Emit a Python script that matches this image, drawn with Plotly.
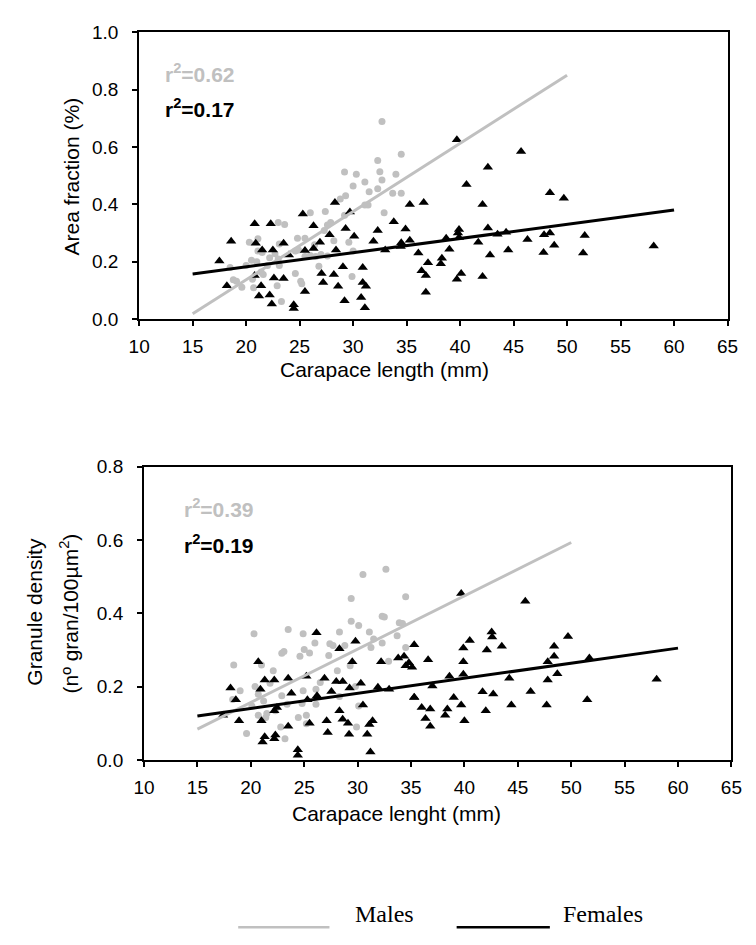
import plotly.graph_objects as go
from plotly.subplots import make_subplots

# ---------------- data ----------------
# Top panel: Area fraction (%) vs carapace length (mm)
area_male_x = [32.7, 34.5, 32.3, 32.5, 29.2, 30.3, 34.0, 32.7, 31.1, 30.0, 31.5, 32.3, 33.7, 34.5,
               29.3, 28.8, 31.1, 31.4, 32.9, 27.4, 26.0, 29.2, 27.9, 27.6, 23.0, 23.6, 27.3, 20.3,
               21.1, 24.8, 25.5, 23.1, 28.2, 29.6, 26.4, 24.9, 30.0, 21.1, 21.5, 24.6, 22.7, 25.5,
               26.0, 26.5, 27.0, 22.2, 23.0, 27.6, 20.5, 21.0, 20.0, 22.0, 23.1, 26.8, 18.5, 21.4,
               21.6, 24.6, 29.9, 19.1, 20.6, 25.1, 25.2, 19.6, 20.7, 22.9, 23.3, 18.8]
area_male_y = [0.689, 0.575, 0.553, 0.514, 0.513, 0.505, 0.505, 0.485, 0.478, 0.464, 0.444, 0.455, 0.439, 0.439,
               0.430, 0.419, 0.398, 0.398, 0.371, 0.375, 0.371, 0.362, 0.337, 0.328, 0.337, 0.330, 0.309, 0.268,
               0.280, 0.282, 0.282, 0.262, 0.273, 0.268, 0.259, 0.241, 0.237, 0.237, 0.232, 0.237, 0.228, 0.218,
               0.222, 0.218, 0.225, 0.214, 0.209, 0.220, 0.205, 0.200, 0.187, 0.187, 0.187, 0.184, 0.180, 0.164,
               0.155, 0.159, 0.148, 0.132, 0.139, 0.132, 0.123, 0.111, 0.109, 0.116, 0.061, 0.137]

area_female_x = [28.3, 35.3, 25.3, 29.7, 20.8, 22.3, 26.3, 33.8, 29.3, 34.9, 32.3, 18.6, 30.1, 27.8,
                 31.9, 35.3, 34.5, 20.9, 23.5, 26.9, 22.5, 21.5, 25.5, 26.3, 28.4, 24.0, 33.0, 17.5,
                 29.05, 30.9, 20.8, 27.05, 28.2, 18.2, 21.4, 22.6, 23.5, 27.2, 28.6, 30.9, 31.2, 25.5,
                 21.2, 22.2, 22.4, 24.45, 24.45, 29.2, 30.75, 31.1,
                 39.7, 45.7, 42.6, 40.6, 48.4, 49.7, 36.6, 42.1, 39.9, 39.8, 42.6, 43.5, 44.3, 38.7,
                 46.3, 47.85, 48.4, 51.65, 34.45, 39.9, 41.7, 36.1, 39.0, 44.5, 48.8, 47.8, 51.5, 58.1,
                 42.8, 37.0, 38.3, 38.2, 36.4, 36.8, 39.7, 40.1, 42.1, 36.8]
area_female_y = [0.407, 0.400, 0.366, 0.373, 0.332, 0.332, 0.325, 0.339, 0.316, 0.314, 0.309, 0.271, 0.289, 0.294,
                 0.271, 0.275, 0.266, 0.264, 0.264, 0.268, 0.241, 0.241, 0.239, 0.246, 0.241, 0.223, 0.241, 0.202,
                 0.182, 0.180, 0.152, 0.159, 0.155, 0.116, 0.116, 0.143, 0.141, 0.127, 0.114, 0.127, 0.114, 0.096,
                 0.080, 0.084, 0.052, 0.050, 0.037, 0.064, 0.075, 0.039,
                 0.626, 0.585, 0.530, 0.469, 0.441, 0.421, 0.407, 0.400, 0.312, 0.300, 0.318, 0.296, 0.303, 0.282,
                 0.277, 0.294, 0.300, 0.291, 0.253, 0.284, 0.268, 0.230, 0.243, 0.241, 0.257, 0.232, 0.230, 0.255,
                 0.223, 0.196, 0.212, 0.193, 0.168, 0.152, 0.139, 0.159, 0.148, 0.093]

area_male_fit_x = [15, 50]
area_male_fit_y = [0.018, 0.851]
area_female_fit_x = [15, 60]
area_female_fit_y = [0.157, 0.380]

# Bottom panel: Granule density vs carapace length (mm)
dens_male_x = [32.65, 30.5, 29.4, 34.5, 20.3, 23.5, 24.9, 29.4, 30.1, 32.3, 32.5, 33.9, 34.2, 28.3,
               31.1, 26.0, 27.4, 27.7, 25.0, 25.5, 22.9, 23.1, 24.6, 28.8, 31.25, 31.5, 32.3, 33.7,
               34.5, 18.4, 21.0, 22.1, 27.3, 28.1, 29.3, 32.9, 26.5, 20.4, 19.0, 21.8, 24.9, 26.1,
               20.7, 18.3, 21.2, 22.9, 23.4, 24.8, 26.1, 28.3, 29.8, 30.1, 20.1, 20.7, 21.4, 21.5,
               22.3, 24.45, 25.2, 25.2, 19.6, 22.8, 23.2, 29.9]
dens_male_y = [0.520, 0.506, 0.440, 0.445, 0.344, 0.356, 0.344, 0.378, 0.367, 0.392, 0.390, 0.374, 0.372, 0.349,
               0.349, 0.319, 0.317, 0.312, 0.301, 0.292, 0.291, 0.296, 0.283, 0.312, 0.307, 0.330, 0.319, 0.339,
               0.307, 0.259, 0.259, 0.243, 0.285, 0.243, 0.257, 0.269, 0.211, 0.200, 0.189, 0.209, 0.189, 0.193,
               0.179, 0.165, 0.161, 0.175, 0.152, 0.154, 0.152, 0.173, 0.200, 0.147, 0.147, 0.122, 0.116, 0.127,
               0.134, 0.116, 0.122, 0.099, 0.072, 0.090, 0.058, 0.090]

dens_female_x = [26.15, 29.8, 20.7, 28.3, 29.5, 32.2, 33.8, 34.35, 34.5, 35.1, 35.3, 21.3, 22.2, 23.5,
                 25.2, 26.9, 28.0, 28.6, 30.3, 18.1, 20.9, 23.8, 27.55, 29.25, 31.9, 32.95, 18.6, 25.3,
                 26.2, 35.3, 22.45, 28.3, 30.5, 17.4, 18.9, 21.0, 22.2, 25.5, 27.1, 28.6, 29.1, 31.4,
                 31.1, 23.5, 27.2, 29.2, 30.9, 21.3, 21.1, 22.2, 22.3, 24.4, 24.4, 31.2,
                 39.7, 45.7, 40.5, 39.9, 42.55, 42.6, 43.5, 42.1, 48.4, 48.4, 49.7, 36.6, 39.9, 47.8,
                 51.7, 34.8, 38.6, 39.9, 44.2, 47.8, 48.7, 58.0, 37.0, 35.3, 39.0, 41.7, 42.7, 46.2,
                 51.5, 36.0, 36.8, 38.4, 38.2, 39.7, 42.0, 44.4, 47.7, 36.35, 36.8, 40.0]
dens_female_y = [0.347, 0.324, 0.268, 0.303, 0.268, 0.268, 0.278, 0.283, 0.257, 0.253, 0.314, 0.218, 0.218, 0.223,
                 0.228, 0.223, 0.214, 0.214, 0.209, 0.196, 0.193, 0.182, 0.187, 0.196, 0.198, 0.193, 0.164, 0.164,
                 0.175, 0.171, 0.143, 0.134, 0.150, 0.122, 0.107, 0.107, 0.134, 0.100, 0.107, 0.111, 0.100, 0.107,
                 0.097, 0.092, 0.075, 0.070, 0.070, 0.063, 0.049, 0.058, 0.068, 0.028, 0.013, 0.022,
                 0.454, 0.433, 0.326, 0.305, 0.349, 0.335, 0.310, 0.300, 0.310, 0.283, 0.337, 0.273, 0.268, 0.268,
                 0.278, 0.265, 0.228, 0.234, 0.223, 0.218, 0.235, 0.220, 0.202, 0.170, 0.170, 0.186, 0.180, 0.187,
                 0.164, 0.143, 0.139, 0.139, 0.122, 0.150, 0.134, 0.150, 0.150, 0.113, 0.092, 0.107]

dens_male_fit_x = [15, 50]
dens_male_fit_y = [0.084, 0.593]
dens_female_fit_x = [15, 60]
dens_female_fit_y = [0.120, 0.305]

x_ticks = [10, 15, 20, 25, 30, 35, 40, 45, 50, 55, 60, 65]
top_y_ticks = [0.0, 0.2, 0.4, 0.6, 0.8, 1.0]
bottom_y_ticks = [0.0, 0.2, 0.4, 0.6, 0.8]

r2_labels = ["r<sup>2</sup>=0.62", "r<sup>2</sup>=0.17", "r<sup>2</sup>=0.39", "r<sup>2</sup>=0.19"]
legend_labels = ["Males", "Females"]

# ---------------- styling ----------------
GREY = "#c0c0c0"
BLACK = "#000000"
SANS = "Liberation Sans, Arial, sans-serif"
SERIF = "Liberation Serif, Times New Roman, serif"
W, H = 756, 945

def px(v):
    return v / W

def py(v):
    return 1 - v / H

fig = make_subplots(rows=2, cols=1)

def add_panel(row, mx, my, fx, fy, mfx, mfy, ffx, ffy):
    fig.add_trace(go.Scatter(x=mx, y=my, mode="markers",
                             marker=dict(symbol="circle", size=7, color=GREY),
                             showlegend=False), row=row, col=1)
    fig.add_trace(go.Scatter(x=fx, y=fy, mode="markers",
                             marker=dict(symbol="triangle-up", size=9, color=BLACK),
                             showlegend=False), row=row, col=1)
    fig.add_trace(go.Scatter(x=mfx, y=mfy, mode="lines",
                             line=dict(color=GREY, width=3),
                             showlegend=False), row=row, col=1)
    fig.add_trace(go.Scatter(x=ffx, y=ffy, mode="lines",
                             line=dict(color=BLACK, width=3),
                             showlegend=False), row=row, col=1)

add_panel(1, area_male_x, area_male_y, area_female_x, area_female_y,
          area_male_fit_x, area_male_fit_y, area_female_fit_x, area_female_fit_y)
add_panel(2, dens_male_x, dens_male_y, dens_female_x, dens_female_y,
          dens_male_fit_x, dens_male_fit_y, dens_female_fit_x, dens_female_fit_y)

axis_common = dict(showgrid=False, zeroline=False, showline=True, linecolor=BLACK, linewidth=2,
                   mirror=True, ticks="outside", ticklen=5, tickwidth=2, tickcolor=BLACK,
                   tickfont=dict(family=SANS, size=19, color=BLACK))

fig.update_layout(
    width=W, height=H,
    margin=dict(l=0, r=0, t=0, b=0),
    paper_bgcolor="white", plot_bgcolor="white",
    showlegend=False,
    xaxis=dict(domain=[px(132), px(738)], range=[10, 65], tickvals=x_ticks,
               ticklabelstandoff=4, **axis_common),
    yaxis=dict(domain=[py(316), py(23)], range=[0, 1.0], tickvals=top_y_ticks,
               tickformat=".1f", ticklabelstandoff=10, **axis_common),
    xaxis2=dict(domain=[px(137), px(742)], range=[10, 65], tickvals=x_ticks,
                ticklabelstandoff=4, **axis_common),
    yaxis2=dict(domain=[py(767), py(467)], range=[0, 0.8], tickvals=bottom_y_ticks,
                tickformat=".1f", ticklabelstandoff=10, **axis_common),
)

annotations = []
r2_font = dict(family=SANS, size=21, weight="bold")
annotations.append(dict(x=12.25, y=0.857, xref="x", yref="y", text=r2_labels[0], showarrow=False,
                        xanchor="left", yanchor="middle", font=dict(color=GREY, **r2_font)))
annotations.append(dict(x=12.25, y=0.737, xref="x", yref="y", text=r2_labels[1], showarrow=False,
                        xanchor="left", yanchor="middle", font=dict(color=BLACK, **r2_font)))
annotations.append(dict(x=13.55, y=0.688, xref="x2", yref="y2", text=r2_labels[2], showarrow=False,
                        xanchor="left", yanchor="middle", font=dict(color=GREY, **r2_font)))
annotations.append(dict(x=13.55, y=0.589, xref="x2", yref="y2", text=r2_labels[3], showarrow=False,
                        xanchor="left", yanchor="middle", font=dict(color=BLACK, **r2_font)))

# axis titles
title_font = dict(family=SANS, size=21, color=BLACK)
annotations.append(dict(x=px(385), y=py(368), xref="paper", yref="paper",
                        text="Carapace length (mm)", showarrow=False, xanchor="center", yanchor="middle",
                        font=title_font))
annotations.append(dict(x=px(62), y=py(170), xref="paper", yref="paper",
                        text="Area fraction (%)", showarrow=False, textangle=-90,
                        xanchor="center", yanchor="middle", font=title_font))
annotations.append(dict(x=px(397), y=py(822), xref="paper", yref="paper",
                        text="Carapace lenght (mm)", showarrow=False, xanchor="center", yanchor="middle",
                        font=title_font))
annotations.append(dict(x=px(24), y=py(615), xref="paper", yref="paper",
                        text="Granule density", showarrow=False, textangle=-90,
                        xanchor="center", yanchor="middle", font=title_font))
annotations.append(dict(x=px(60), y=py(617), xref="paper", yref="paper",
                        text="(nº gran/100µm<sup>2</sup>)", showarrow=False, textangle=-90,
                        xanchor="center", yanchor="middle", font=title_font))

# legend texts
leg_font = dict(family=SERIF, size=24, color=BLACK)
annotations.append(dict(x=px(352), y=py(925), xref="paper", yref="paper", text=legend_labels[0],
                        showarrow=False, xanchor="left", yanchor="middle", font=leg_font))
annotations.append(dict(x=px(566), y=py(925), xref="paper", yref="paper", text=legend_labels[1],
                        showarrow=False, xanchor="left", yanchor="middle", font=leg_font))
fig.update_layout(annotations=annotations)

# legend keys
fig.add_shape(type="line", xref="paper", yref="paper", x0=px(234), x1=px(328),
              y0=py(938), y1=py(938), line=dict(color=GREY, width=2.5))
fig.add_shape(type="line", xref="paper", yref="paper", x0=px(459), x1=px(555),
              y0=py(938), y1=py(938), line=dict(color=BLACK, width=2.5))

fig.write_html("out.html")
